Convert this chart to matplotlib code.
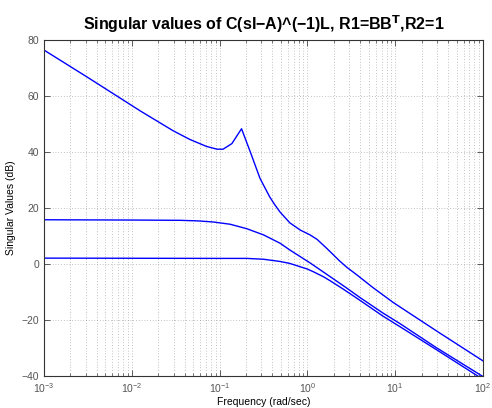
import matplotlib
matplotlib.use("Agg")
import matplotlib.pyplot as plt
import numpy as np
from matplotlib.ticker import LogLocator, NullFormatter, MultipleLocator

plt.rcParams.update({
    "font.family": ["Liberation Sans", "DejaVu Sans"],
    "axes.linewidth": 0.8,
})

# log10 of frequency (rad/sec) and singular values (dB)
top_logw = [-3.0, -2.5, -2.0, -1.9, -1.72, -1.53, -1.34, -1.15, -1.03, -0.96,
            -0.86, -0.75, -0.65, -0.54, -0.43, -0.37, -0.31, -0.2, -0.08, 0.03,
            0.11, 0.22, 0.37, 0.45, 0.56, 0.75, 0.98, 1.5, 2.0]
top_db = [76.4, 66.6, 56.6, 54.6, 51.2, 47.6, 44.5, 42.0, 41.0, 41.0,
          43.0, 48.3, 40.0, 30.6, 24.0, 21.1, 18.5, 14.7, 12.1, 10.4,
          8.8, 5.6, 1.0, -1.2, -3.8, -8.5, -13.8, -24.5, -34.6]

mid_logw = [-3.0, -2.0, -1.45, -1.25, -1.07, -0.88, -0.69, -0.5, -0.31, -0.2,
            -0.12, 0.03, 0.3, 0.43, 0.6, 0.86, 1.055, 1.47, 2.0]
mid_db = [15.8, 15.7, 15.6, 15.4, 15.0, 14.2, 12.6, 10.4, 7.4, 5.0,
          3.4, 0.4, -5.4, -8.2, -12.0, -17.5, -21.3, -29.9, -40.2]

bot_logw = [-3.0, -1.0, -0.69, -0.5, -0.31, -0.2, -0.12, 0.0, 0.07, 0.18,
            0.26, 0.41, 0.6, 0.86, 1.055, 1.47, 2.0]
bot_db = [2.1, 2.0, 2.0, 1.7, 0.9, 0.2, -0.6, -1.8, -2.8, -4.5,
          -6.0, -9.0, -13.0, -18.6, -22.4, -30.6, -41.2]

TITLE = "Singular values of C(sI\u2212A)^(\u22121)L, R1=BB$^{\\mathbf{T}}$,R2=1"

fig = plt.figure(figsize=(4.92, 4.08), dpi=100, facecolor="white")
ax = fig.add_axes([0.0894, 0.0784, 0.8923, 0.8236])

for lw_, db_ in ((top_logw, top_db), (mid_logw, mid_db), (bot_logw, bot_db)):
    ax.semilogx(10.0 ** np.array(lw_), db_, color="#0000ff", linewidth=1.0)

ax.set_xlim(1e-3, 1e2)
ax.set_ylim(-40, 80)
ax.yaxis.set_major_locator(MultipleLocator(20))
ax.xaxis.set_major_locator(LogLocator(base=10, numticks=10))
ax.xaxis.set_minor_locator(LogLocator(base=10, subs=np.arange(2, 10), numticks=20))
ax.xaxis.set_minor_formatter(NullFormatter())

ax.grid(True, which="major", axis="both", linestyle=(0, (1, 3)),
        color="#8a8a8a", linewidth=0.5)
ax.grid(True, which="minor", axis="x", linestyle=(0, (1, 3)),
        color="#8a8a8a", linewidth=0.5)

ax.tick_params(which="both", direction="in", top=True, right=True,
               colors="#444444", labelcolor="#555555", labelsize=7.5)
ax.tick_params(which="major", length=4, width=0.6)
ax.tick_params(which="minor", length=2, width=0.5)
for sp in ax.spines.values():
    sp.set_color("#333333")

ax.set_xlabel("Frequency (rad/sec)", fontsize=7.5, labelpad=2)
ax.set_ylabel("Singular Values (dB)", fontsize=7.5, labelpad=4)
ax.set_title(TITLE, fontsize=11.5, fontweight="bold", pad=7)

fig.savefig("out.png", dpi=100, facecolor="white")
